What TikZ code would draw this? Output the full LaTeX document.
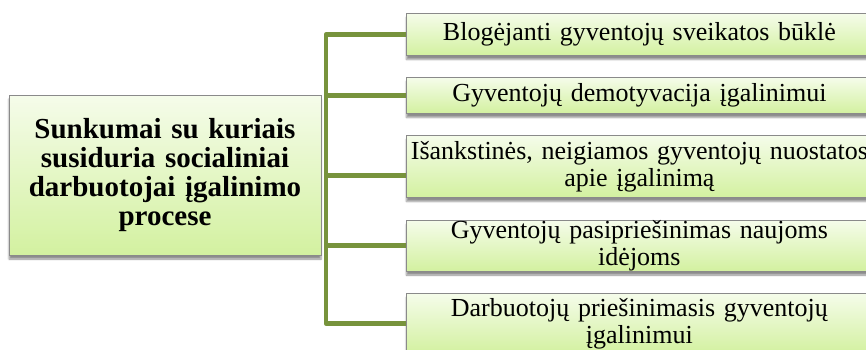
\documentclass[tikz,border=0pt]{standalone}
\usepackage{fontspec}
\setmainfont{Liberation Serif}
\usetikzlibrary{shadows.blur}
\definecolor{boxtop}{HTML}{F5FCEA}
\definecolor{boxbot}{HTML}{D3F1A0}
\definecolor{boxline}{HTML}{8A8A8A}
\definecolor{branch}{HTML}{77933C}
\tikzset{
  card/.style={draw=boxline, line width=0.8pt, top color=boxtop, bottom color=boxbot,
    blur shadow={shadow xshift=0pt, shadow yshift=-4pt, shadow blur steps=6, shadow opacity=45},
    inner sep=0pt, align=center},
  mainbox/.style={card, minimum width=312pt, minimum height=160pt, text width=312pt,
    font=\fontsize{29}{29}\selectfont\bfseries},
  itembox/.style={card, anchor=north west, minimum width=466pt, text width=466pt,
    font=\fontsize{26}{27}\selectfont},
  conn/.style={draw=branch, line width=4.5pt, line join=round}
}
\begin{document}
\begin{tikzpicture}[x=1pt, y=-1pt]
  \useasboundingbox (0,0) rectangle (866,349);
  \clip (0,0) rectangle (866,349);

  % central box
  \node[mainbox] (main) at (165,175) {Sunkumai su kuriais\\susiduria socialiniai\\darbuotojai įgalinimo\\procese};

  % items
  \node[itembox, minimum height=42pt] (b1) at (406,13) {Blogėjanti gyventojų sveikatos būklė};
  \node[itembox, minimum height=36pt] (b2) at (406,77) {Gyventojų demotyvacija įgalinimui};
  \node[itembox, minimum height=62pt] (b3) at (406,135) {Išankstinės, neigiamos gyventojų nuostatos\\apie įgalinimą};
  \node[itembox, minimum height=49pt] (b4) at (406,220) {Gyventojų pasipriešinimas naujoms\\idėjoms};
  \node[itembox, minimum height=60pt] (b5) at (406,293) {Darbuotojų priešinimasis gyventojų\\įgalinimui};

  % spine and branches
  \coordinate (spine) at (326,0);
  \coordinate (j3) at ([yshift=-9pt]b3.west);
  \draw[conn] (b1.west) -- (b1.west -| spine) -- (b5.west -| spine) -- (b5.west);
  \draw[conn] (b2.west -| spine) -- (b2.west);
  \draw[conn] (j3 -| spine) -- (j3);
  \draw[conn] (b4.west -| spine) -- (b4.west);
\end{tikzpicture}
\end{document}
